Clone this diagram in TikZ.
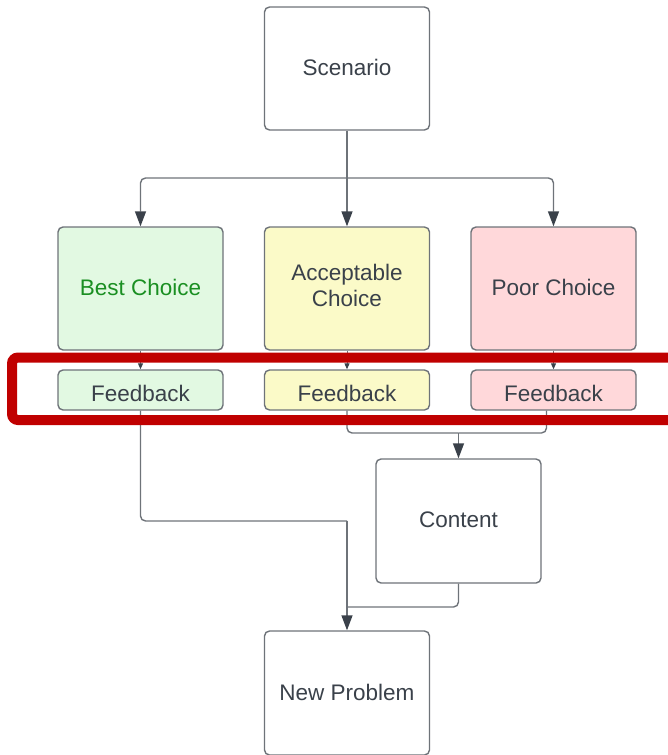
\documentclass[tikz,border=0pt]{standalone}
\usepackage{fontspec}
\setmainfont{Liberation Sans}
\usetikzlibrary{arrows.meta}
\definecolor{bordc}{HTML}{6E7379}
\definecolor{txtc}{HTML}{3A414A}
\definecolor{greenfill}{HTML}{E2F9E2}
\definecolor{greentxt}{HTML}{1A8F22}
\definecolor{yellowfill}{HTML}{FBFAC8}
\definecolor{pinkfill}{HTML}{FFD8DA}
\definecolor{redframe}{HTML}{C00000}
\newcommand{\shiftup}[2]{\raisebox{#1}[\height][\depth]{#2}}
\tikzset{
  box/.style={draw=bordc, line width=1.4pt, rounded corners=5pt, fill=white,
    text=txtc, font=\fontsize{22.5}{26}\selectfont, align=center,
    minimum width=165pt, minimum height=123pt, inner sep=0pt},
  fbbox/.style={box, minimum height=40pt},
  conn/.style={draw=bordc, line width=1.4pt, rounded corners=5pt},
  bigarrow/.style={conn, -{Triangle[length=15pt,width=11pt,fill=txtc,color=txtc]}},
  smallarrow/.style={conn, line width=1pt, -{Triangle[length=6pt,width=5pt,fill=txtc,color=txtc]}},
}
\begin{document}
\begin{tikzpicture}[x=1pt,y=-1pt]
\useasboundingbox (0,0) rectangle (668,755);
\node[box] (scen) at (347,68.5) {\shiftup{1pt}{Scenario}};
\node[box, fill=greenfill, text=greentxt] (best) at (140.5,288.5) {\shiftup{1pt}{Best Choice}};
\node[box, fill=yellowfill] (acc) at (347,288.5) {\shiftup{3pt}{\parbox{160pt}{\centering Acceptable\\Choice}}};
\node[box, fill=pinkfill] (poor) at (553.5,288.5) {\shiftup{1pt}{Poor Choice}};
\node[fbbox, fill=greenfill] (fbB) at (140.5,390) {\shiftup{-3pt}{Feedback}};
\node[fbbox, fill=yellowfill] (fbA) at (347,390) {\shiftup{-3pt}{Feedback}};
\node[fbbox, fill=pinkfill] (fbP) at (553.5,390) {\shiftup{-3pt}{Feedback}};
\node[box, minimum height=124pt] (cont) at (458.5,521) {\shiftup{1pt}{Content}};
\node[box, minimum height=124pt] (newp) at (347,693) {\shiftup{1pt}{New Problem}};

\coordinate (j0) at (347,178);
\coordinate (j1) at (458.5,433);
\coordinate (j2) at (347,521);
\coordinate (j3) at (347,607);

\draw[conn] (scen.south) -- (j0);
\draw[bigarrow] (j0) -| (best.north);
\draw[bigarrow] (j0) -- (acc.north);
\draw[bigarrow] (j0) -| (poor.north);

\draw[smallarrow] (best.south) -- (fbB.north);
\draw[smallarrow] (acc.south) -- (fbA.north);
\draw[smallarrow] (poor.south) -- (fbP.north);

\draw[conn] (fbA.south) |- (j1);
\draw[conn] ([xshift=-7pt]fbP.south) |- (j1);
\draw[bigarrow] (j1) -- (cont.north);

\draw[conn] (fbB.south) |- (j2);
\draw[conn] (cont.south) |- (j3);
\draw[bigarrow] (j2) -- (newp.north);

\draw[redframe, line width=10pt, rounded corners=6pt] (12,357.5) rectangle (690,420);
\end{tikzpicture}
\end{document}
